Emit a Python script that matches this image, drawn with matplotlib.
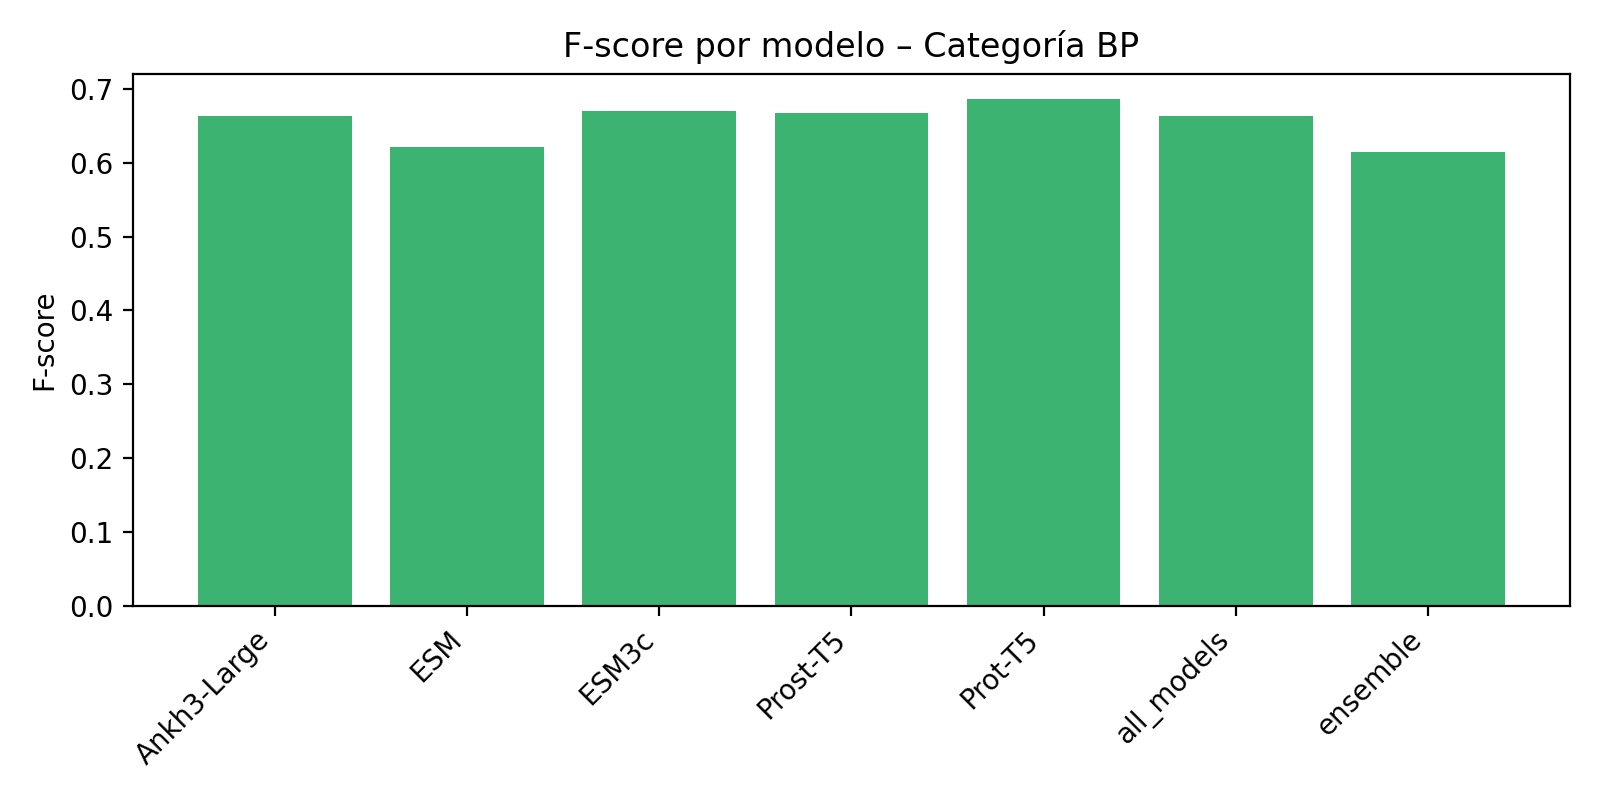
import matplotlib
matplotlib.use("Agg")
import matplotlib.pyplot as plt

models = ["Ankh3-Large", "ESM", "ESM3c", "Prost-T5", "Prot-T5", "all_models", "ensemble"]
fscores = [0.663, 0.621, 0.670, 0.667, 0.686, 0.663, 0.615]

fig, ax = plt.subplots(figsize=(8, 4), dpi=200)
ax.bar(models, fscores, color="mediumseagreen")
ax.set_title("F-score por modelo – Categoría BP")
ax.set_ylabel("F-score")
plt.setp(ax.get_xticklabels(), rotation=45, ha="right")
fig.tight_layout()
fig.savefig("out.png")
